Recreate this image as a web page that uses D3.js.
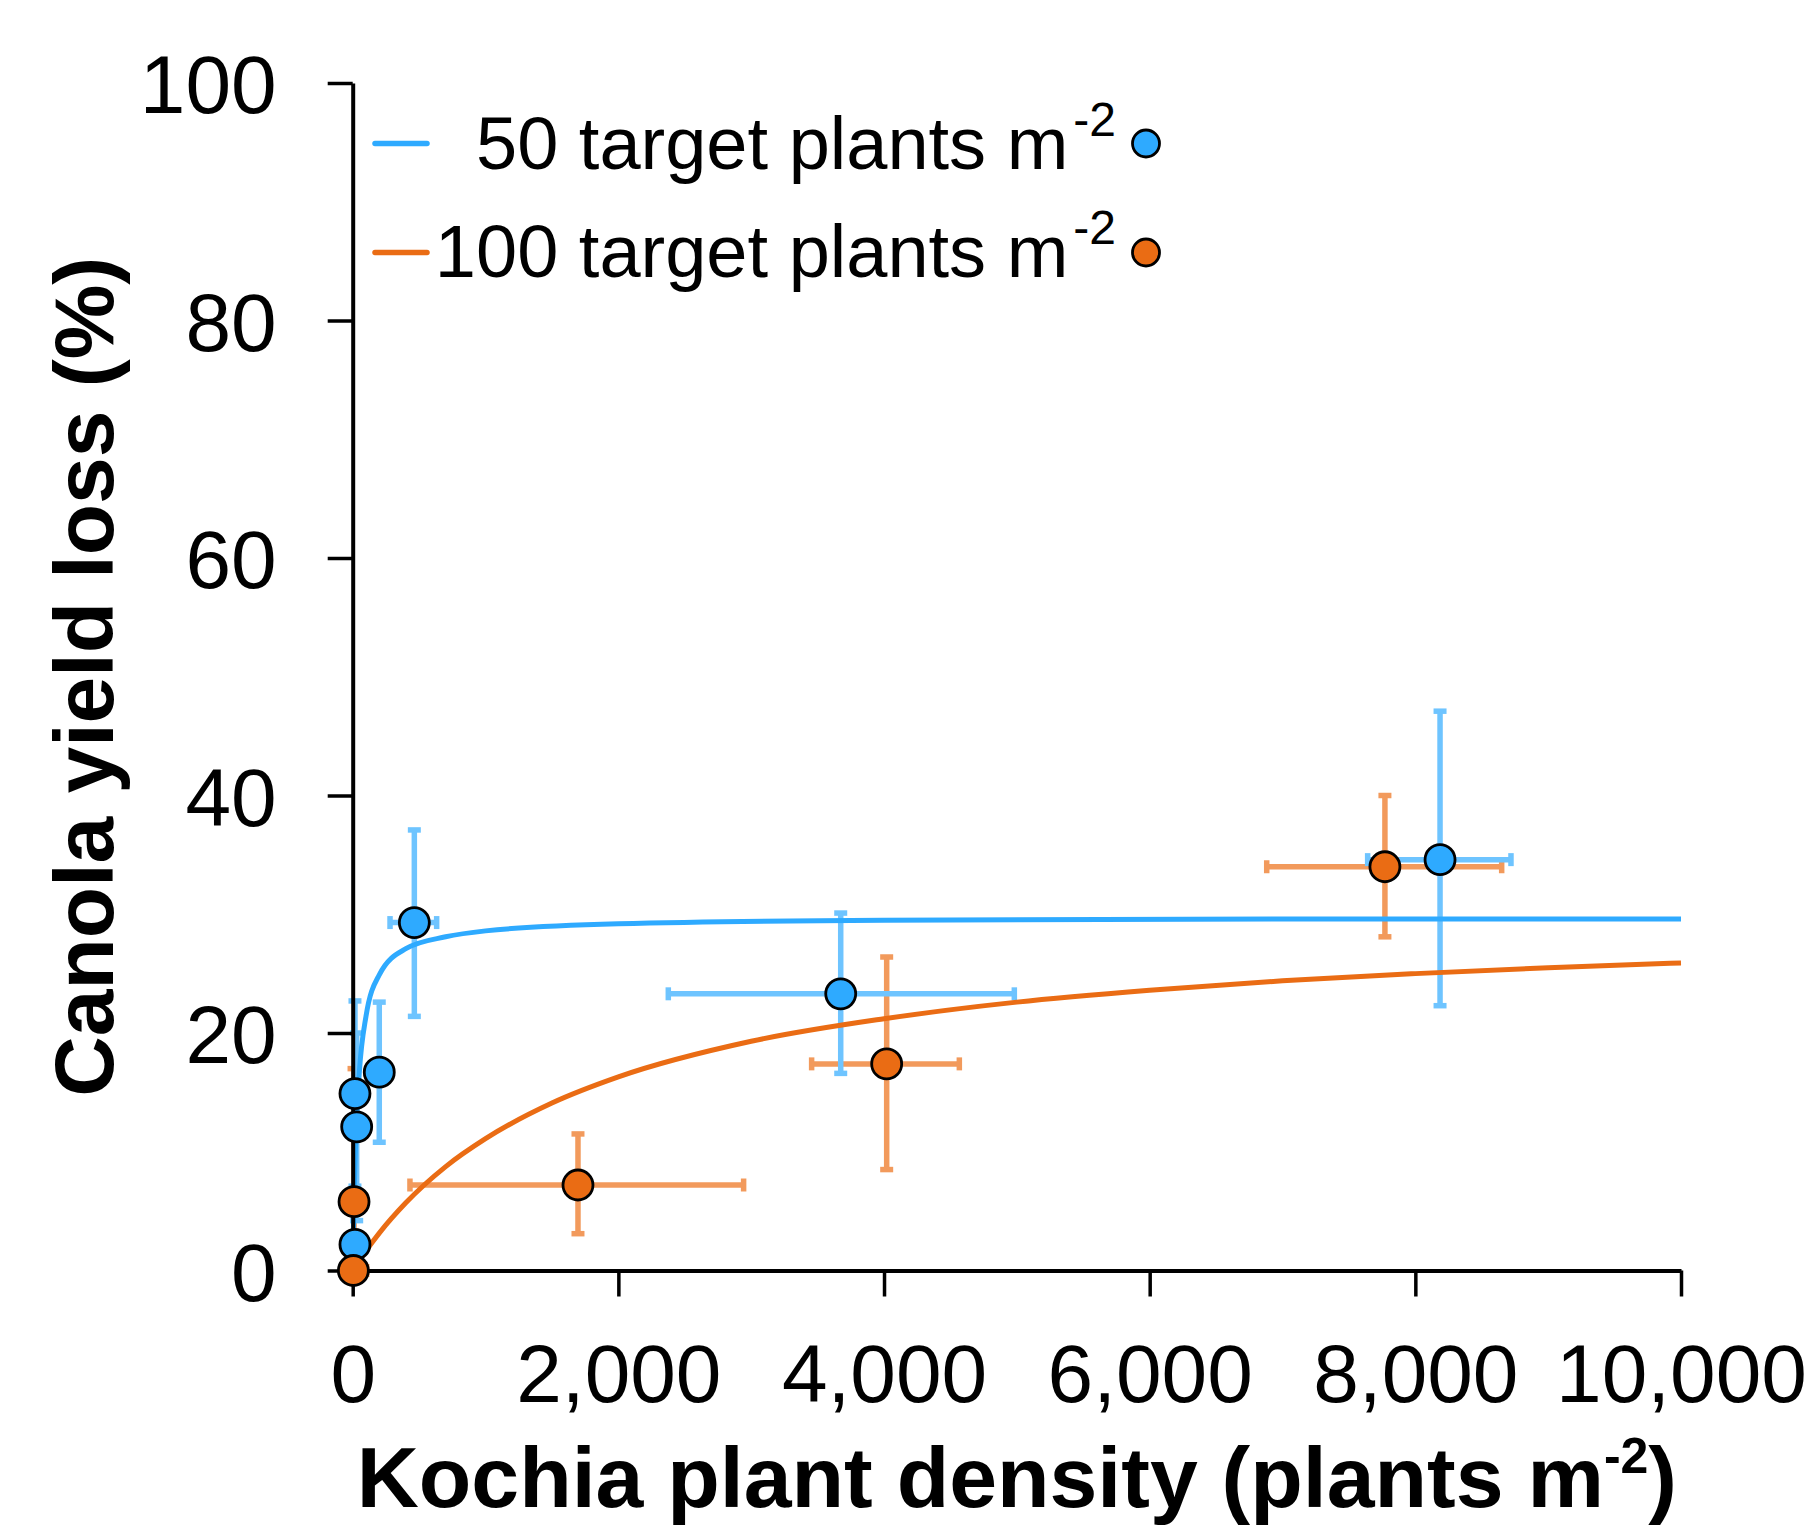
<!DOCTYPE html>
<html>
<head>
<meta charset="utf-8">
<script src="https://cdn.jsdelivr.net/npm/d3@7/dist/d3.min.js"></script>
<style>
  html, body { margin: 0; padding: 0; background: #fff; }
  svg { display: block; font-family: "Liberation Sans", Arial, sans-serif; }
</style>
</head>
<body>
<svg id="chart" width="1819" height="1532"></svg>
<script>
// ---------------- data ----------------
const xTicks = [0, 2000, 4000, 6000, 8000, 10000];
const yTicks = [0, 20, 40, 60, 80, 100];

const seriesNames = ["50 target plants m", "100 target plants m"];

// observed points: density, yield loss, error bounds (y low/high, x low/high)
const blueX    = [17, 30, 200, 464, 17, 3674, 8186];
const blueY    = [14.9, 12.1, 16.7, 29.3, 2.2, 23.3, 34.6];
const blueYLo  = [7.1, 4.2, 10.8, 21.4, null, 16.6, 22.3];
const blueYHi  = [22.7, 20.0, 22.6, 37.1, null, 30.1, 47.1];
const blueXLo  = [null, null, null, 281, null, 2376, 7641];
const blueXHi  = [null, null, null, 632, null, 4981, 8720];

const orangeX   = [5, 10, 1696, 4020, 7771];
const orangeY   = [0, 5.8, 7.2, 17.4, 34.0];
const orangeYLo = [null, 0, 3.1, 8.5, 28.1];
const orangeYHi = [null, 17.0, 11.5, 26.4, 40.0];
const orangeXLo = [null, null, 431, 3455, 6881];
const orangeXHi = [105, null, 2943, 4567, 8650];

// fitted curves
const blueCurveX = [0, 10, 25, 50, 100, 200, 400, 700, 1000, 2000, 4000, 7000, 10000];
const blueCurveY = [0, 6.0, 11.6, 16.7, 21.4, 24.9, 27.1, 28.1, 28.6, 29.2, 29.5, 29.6, 29.6];
const orangeCurveX = [0, 50, 100, 200, 400, 700, 1000, 1500, 2000, 3000, 4000, 5000, 6000, 7000, 8000, 9000, 10000];
const orangeCurveY = [0, 0.85, 1.66, 3.15, 5.7, 8.75, 11.1, 14.1, 16.3, 19.3, 21.2, 22.6, 23.6, 24.4, 25.0, 25.5, 25.9];

// ---------------- chart ----------------
const svg = d3.select("#chart");
const x = d3.scaleLinear().domain([0, 10000]).range([352.7, 1681]);
const y = d3.scaleLinear().domain([0, 100]).range([1270.5, 83]);

const BLUE = "#2EAAFF", BLUE_ERR = "#6EC4FF";
const ORANGE = "#EA6C14", ORANGE_ERR = "#F29A5C";

function drawErrors(xs, ys, ylo, yhi, xlo, xhi, color) {
  const g = svg.append("g").attr("stroke", color).attr("stroke-width", 5.5).attr("fill", "none");
  const cap = 6.5;
  xs.forEach((xv, i) => {
    const cx = x(xv), cy = y(ys[i]);
    if (yhi[i] != null) {
      g.append("line").attr("x1", cx).attr("x2", cx).attr("y1", y(ylo[i])).attr("y2", y(yhi[i]));
      g.append("line").attr("x1", cx - cap).attr("x2", cx + cap).attr("y1", y(yhi[i])).attr("y2", y(yhi[i]));
      if (ylo[i] > 0)
        g.append("line").attr("x1", cx - cap).attr("x2", cx + cap).attr("y1", y(ylo[i])).attr("y2", y(ylo[i]));
    }
    if (xhi[i] != null) {
      const x0 = xlo[i] != null ? x(xlo[i]) : cx;
      g.append("line").attr("x1", x0).attr("x2", x(xhi[i])).attr("y1", cy).attr("y2", cy);
      g.append("line").attr("x1", x(xhi[i])).attr("x2", x(xhi[i])).attr("y1", cy - cap).attr("y2", cy + cap);
      if (xlo[i] != null)
        g.append("line").attr("x1", x0).attr("x2", x0).attr("y1", cy - cap).attr("y2", cy + cap);
    }
  });
}

drawErrors(orangeX, orangeY, orangeYLo, orangeYHi, orangeXLo, orangeXHi, ORANGE_ERR);
drawErrors(blueX, blueY, blueYLo, blueYHi, blueXLo, blueXHi, BLUE_ERR);

const line = d3.line().x(d => x(d[0])).y(d => y(d[1])).curve(d3.curveMonotoneX);
svg.append("path").datum(blueCurveX.map((v, i) => [v, blueCurveY[i]]))
  .attr("d", line).attr("fill", "none").attr("stroke", BLUE).attr("stroke-width", 5);
svg.append("path").datum(orangeCurveX.map((v, i) => [v, orangeCurveY[i]]))
  .attr("d", line).attr("fill", "none").attr("stroke", ORANGE).attr("stroke-width", 5);

// axes
const xAxis = d3.axisBottom(x).tickValues(xTicks).tickSize(26).tickSizeOuter(0).tickFormat(d3.format(","));
const yAxis = d3.axisLeft(y).tickValues(yTicks).tickSize(25).tickSizeOuter(0);

const gx = svg.append("g").attr("transform", `translate(0,${y(0)})`).call(xAxis);
const gy = svg.append("g").attr("transform", `translate(${x(0)},0)`).call(yAxis);
[gx, gy].forEach(g => {
  g.select(".domain").attr("stroke", "#000").attr("stroke-width", 4);
  g.selectAll(".tick line").attr("stroke", "#000").attr("stroke-width", 3.5);
  g.selectAll(".tick text").attr("fill", "#000")
    .style("font-family", '"Liberation Sans", Arial, sans-serif').style("font-size", "82px");
});
gx.selectAll(".tick text").attr("y", 73).attr("dy", "0.71em");
gy.selectAll(".tick text").attr("x", -76).attr("dy", "0.36em");

// points
function drawPoints(xs, ys, color) {
  svg.append("g").selectAll("circle").data(xs).join("circle")
    .attr("cx", d => x(d)).attr("cy", (d, i) => y(ys[i])).attr("r", 15)
    .attr("fill", color).attr("stroke", "#000").attr("stroke-width", 2.8);
}
drawPoints(blueX, blueY, BLUE);
drawPoints(orangeX, orangeY, ORANGE);

// axis titles
const xt = svg.append("text").attr("x", (x(0) + x(10000)) / 2).attr("y", 1507)
  .attr("text-anchor", "middle").attr("font-weight", "bold").attr("font-size", 86).attr("fill", "#000");
xt.append("tspan").text("Kochia plant density (plants m");
xt.append("tspan").attr("font-size", 50).attr("dy", -34).text("-2");
xt.append("tspan").attr("dy", 34).text(")");

svg.append("text").attr("transform", `translate(113,${(y(0) + y(100)) / 2}) rotate(-90)`)
  .attr("text-anchor", "middle").attr("font-weight", "bold").attr("font-size", 84).attr("fill", "#000")
  .text("Canola yield loss (%)");

// legend
const legendRows = [
  { name: seriesNames[0], color: BLUE, cy: 143.5, base: 168.5 },
  { name: seriesNames[1], color: ORANGE, cy: 252.5, base: 277 }
];
legendRows.forEach(r => {
  svg.append("line").attr("x1", 375).attr("x2", 427).attr("y1", r.cy).attr("y2", r.cy)
    .attr("stroke", r.color).attr("stroke-width", 5.5).attr("stroke-linecap", "round");
  const t = svg.append("text").attr("x", 1116).attr("y", r.base).attr("text-anchor", "end")
    .attr("font-size", 74).attr("fill", "#000");
  t.append("tspan").text(r.name);
  t.append("tspan").attr("font-size", 48).attr("dy", -33).attr("dx", 5).text("-2");
  svg.append("circle").attr("cx", 1146).attr("cy", r.cy).attr("r", 13.5)
    .attr("fill", r.color).attr("stroke", "#000").attr("stroke-width", 2.8);
});
</script>
</body>
</html>
